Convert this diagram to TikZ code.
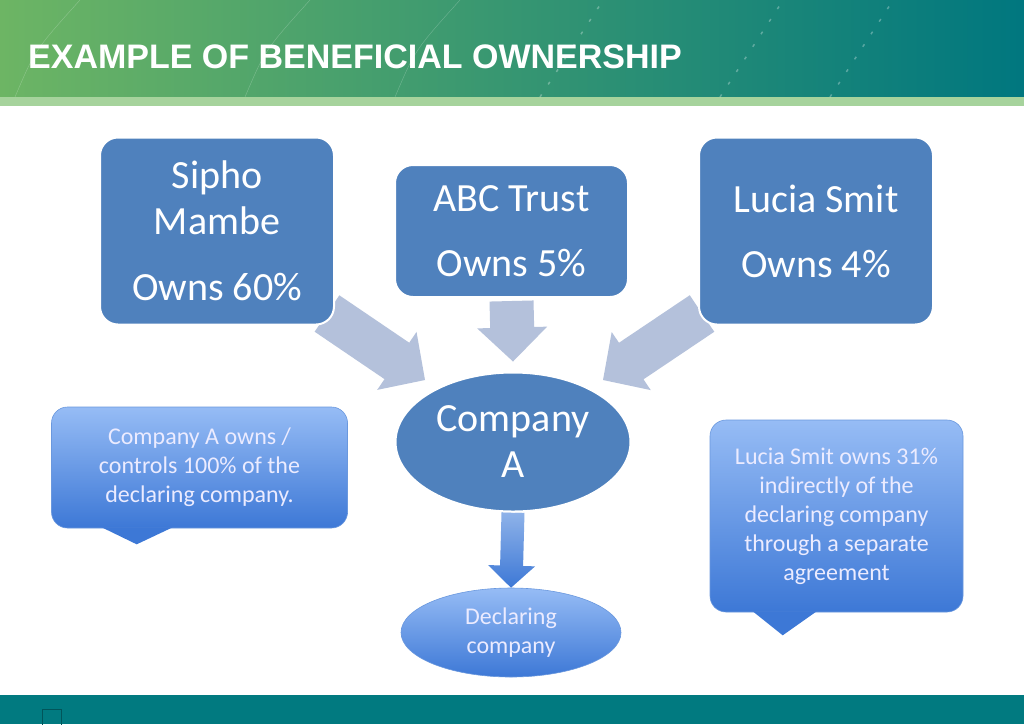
\documentclass[tikz,border=0pt]{standalone}
\usepackage{fontspec}
\setmainfont{Carlito}
\newfontfamily\headfont{Liberation Sans}
\usetikzlibrary{calc,shapes.geometric}

\definecolor{boxblue}{HTML}{4F81BD}
\definecolor{arrowgrey}{HTML}{B4C1DB}
\definecolor{calltop}{HTML}{96BCF5}
\definecolor{callbot}{HTML}{3D78D6}
\definecolor{calledge}{HTML}{6A98DE}
\definecolor{bandgreen}{HTML}{6DB564}
\definecolor{bandmid}{HTML}{2E9877}
\definecolor{bandteal}{HTML}{00777F}
\definecolor{striplight}{HTML}{A6D39C}
\definecolor{footteal}{HTML}{017A80}

\pgfdeclarelayer{back}
\pgfsetlayers{back,main}

\tikzset{
  ownerbox/.style = {draw=white, line width=2pt, fill=boxblue,
                     rounded corners=18pt, text=white, align=center,
                     font=\fontsize{40}{46}\selectfont},
  targetnode/.style = {ownerbox, ellipse, sharp corners, inner sep=0pt},
  notebox/.style = {draw=calledge, line width=0.6pt, top color=calltop,
                    bottom color=callbot, rounded corners=16pt,
                    text=white!92!blue, align=center,
                    font=\fontsize{24}{29}\selectfont},
  notefoot/.style = {fill=callbot},
  declnode/.style = {notebox, ellipse, sharp corners, inner sep=0pt,
                     font=\fontsize{24}{29}\selectfont},
  sharearrow/.style = {fill=arrowgrey},
  flowarrow/.style = {top color=calltop!95!black, bottom color=callbot},
}

% block arrow: style, from, to, shaft half width, head half width, head length
\newcommand{\blockarrow}[6]{%
  \coordinate (hb) at ($(#3)!#6!(#2)$);
  \path[#1] ($(#2)!#4!90:(#3)$) -- ($(hb)!#4!90:(#3)$) -- ($(hb)!#5!90:(#3)$)
    -- (#3) -- ($(hb)!#5!-90:(#3)$) -- ($(hb)!#4!-90:(#3)$)
    -- ($(#2)!#4!-90:(#3)$) -- cycle;}

\begin{document}
\begin{tikzpicture}[x=1pt,y=-1pt]
\useasboundingbox (0,0) rectangle (1024,724);
% header band
\shade[left color=bandgreen, middle color=bandmid, right color=bandteal]
  (0,0) rectangle (1024,97);
\fill[striplight] (0,97) rectangle (1024,106);
\foreach \x in {0,230,380}
  \draw[white,opacity=.25] (\x+15,97) .. controls (\x+35,50) .. (\x+80,0);
\foreach \x in {540,720,830}
  \draw[white,opacity=.3,line width=1.5pt,dash pattern=on 3pt off 12pt]
    (\x,97) -- (\x+60,5);
\node[anchor=base west, inner sep=0pt, text=white,
      font=\headfont\bfseries\fontsize{34}{40}\selectfont] (title) at (28,68)
  {EXAMPLE OF BENEFICIAL OWNERSHIP};
% footer
\fill[footteal] (0,695) rectangle (1024,724);
\draw[footteal!70!black, line width=0.8pt] (42,709) rectangle (61,726);

% owners
\node[ownerbox, minimum width=234pt, minimum height=187pt] (sipho) at (217,231)
  {Sipho\\Mambe\\[20pt]Owns 60\%};
\node[ownerbox, minimum width=233pt, minimum height=132pt] (abc) at (511.5,231)
  {ABC Trust\\[19pt]Owns 5\%};
\node[ownerbox, minimum width=234pt, minimum height=187pt] (lucia) at (816,231)
  {Lucia Smit\\[19pt]Owns 4\%};
\node[targetnode, minimum width=235pt, minimum height=139pt] (compA) at (513,442)
  {Company\\A};
\node[declnode, minimum width=220pt, minimum height=89pt] (decl) at (511,632.5)
  {Declaring\\company};

% notes
\node[notebox, minimum width=296pt, minimum height=121pt] (note1) at (199.5,467.5)
  {Company A owns /\\controls 100\% of the\\declaring company.};
\fill[notefoot] ($(note1.south west)+(50.5,-1)$) -- ++(35,17) -- ++(36,-17) -- cycle;
\node[notebox, minimum width=253pt, minimum height=192pt] (note2) at (836.5,516)
  {Lucia Smit owns 31\%\\indirectly of the\\declaring company\\through a separate\\agreement};
\fill[notefoot] ($(note2.south west)+(43,-1)$) -- ++(30,24) -- ++(34,-24) -- cycle;

% arrows
\begin{pgfonlayer}{back}
\fill[white] (0,106) rectangle (1024,695);
\coordinate (s1) at ($(sipho.south east)+(-8,-12)$);
\coordinate (t1) at ($(compA.center)+(-88,-62)$);
\coordinate (s2) at ($(lucia.south west)+(4,-12)$);
\coordinate (t2) at ($(compA.center)+(90,-62)$);
\coordinate (s3) at ($(abc.south)+(0,3)$);
\coordinate (t3) at ($(compA.north)+(0,-10)$);
\blockarrow{sharearrow}{s1}{t1}{22pt}{35pt}{34pt}
\blockarrow{sharearrow}{s2}{t2}{22pt}{35pt}{34pt}
\blockarrow{sharearrow}{s3}{t3}{22pt}{35pt}{34pt}
\blockarrow{flowarrow}{compA.south}{decl.north}{11.5pt}{23.5pt}{22pt}
\end{pgfonlayer}
\end{tikzpicture}
\end{document}
